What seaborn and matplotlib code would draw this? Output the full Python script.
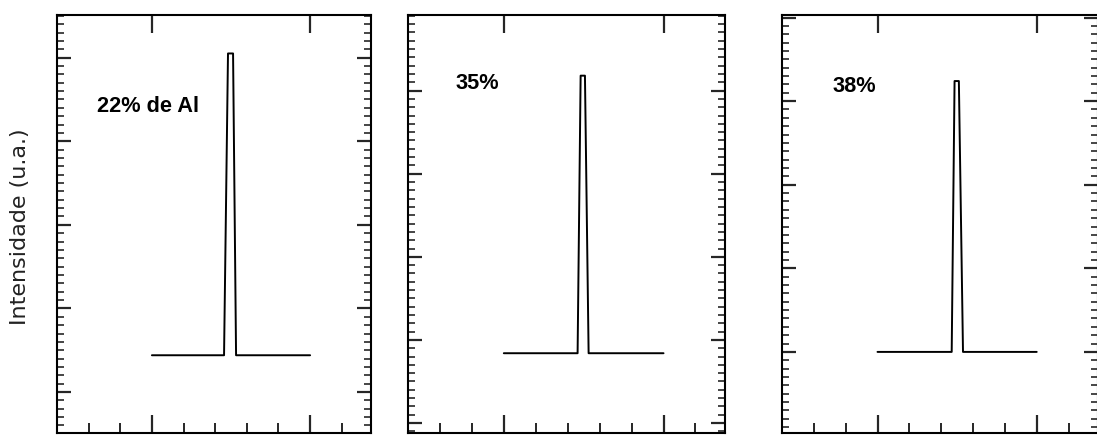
import matplotlib
matplotlib.use("Agg")
import matplotlib.pyplot as plt
from matplotlib.ticker import MultipleLocator
import seaborn as sns
import pandas as pd

# Rocking-curve profiles (arbitrary angular units, intensity in a.u.)
labels = ["22% de Al", "35%", "38%"]

omega_22 = [0.0, 0.456, 0.481, 0.513, 0.532, 1.0]
inten_22 = [0.44, 0.44, 4.05, 4.05, 0.44, 0.44]

omega_35 = [0.0, 0.462, 0.481, 0.508, 0.531, 1.0]
inten_35 = [0.84, 0.84, 4.18, 4.18, 0.84, 0.84]

omega_38 = [0.0, 0.466, 0.484, 0.511, 0.537, 1.0]
inten_38 = [0.0, 0.0, 3.24, 3.24, 0.0, 0.0]

y_limits = [(-0.49, 4.51), (-0.12, 4.91), (-0.97, 4.03)]
label_pos = [(-0.345, 3.42), (-0.30, 4.08), (-0.283, 3.18)]

sns.set_style("ticks")
plt.rcParams["font.family"] = ["DejaVu Sans"]

W, H = 1097, 436
fig = plt.figure(figsize=(W / 100, H / 100), dpi=100)

# axes boxes in pixels: left, width
boxes = [(57, 314), (408, 317), (782, 316)]
bottom_px, top_px = 433, 15

series = [(omega_22, inten_22), (omega_35, inten_35), (omega_38, inten_38)]
label_font = ["Liberation Sans Narrow", "Liberation Sans", "DejaVu Sans"]

texts = []
for i, ((left, width), (om, it), ylim, lab, lp) in enumerate(
        zip(boxes, series, y_limits, labels, label_pos)):
    ax = fig.add_axes([left / W, 1 - bottom_px / H, width / W,
                       (bottom_px - top_px) / H])
    df = pd.DataFrame({"omega": om, "intensidade": it})
    sns.lineplot(data=df, x="omega", y="intensidade", ax=ax, color="black",
                 linewidth=1.4, sort=False, estimator=None)
    ax.set_xlim(-0.6, 1.385)
    ax.set_ylim(*ylim)
    ax.xaxis.set_major_locator(MultipleLocator(1.0))
    ax.xaxis.set_minor_locator(MultipleLocator(0.2))
    ax.yaxis.set_major_locator(MultipleLocator(1.0))
    ax.yaxis.set_minor_locator(MultipleLocator(0.1))
    ax.tick_params(axis="x", which="major", direction="in", length=13,
                   width=1.6, top=True, bottom=True, labelbottom=False)
    ax.tick_params(axis="x", which="minor", direction="in", length=7,
                   width=1.4, top=False, bottom=True)
    ax.tick_params(axis="y", which="major", direction="in", length=10,
                   width=1.6, left=True, right=True, labelleft=False)
    ax.tick_params(axis="y", which="minor", direction="in", length=5,
                   width=1.2, left=True, right=True)
    for sp in ax.spines.values():
        sp.set_visible(True)
        sp.set_linewidth(1.5)
        sp.set_color("black")
    ax.set_xlabel("")
    ax.set_ylabel("")
    t = ax.text(lp[0], lp[1], lab, ha="left", va="center", fontsize=16,
                fontweight="bold", color="black", family=label_font)
    texts.append(t)

# size the panel labels so "22% de Al" spans about 102 px
renderer = fig.canvas.get_renderer()
w0 = texts[0].get_window_extent(renderer).width
size = 16 * 102.0 / w0
for t in texts:
    t.set_fontsize(size)

fig.text(20 / W, 1 - 227 / H, "Intensidade (u.a.)", rotation=90,
         ha="center", va="center", fontsize=16, color="#222222")

fig.savefig("out.png", dpi=100)
